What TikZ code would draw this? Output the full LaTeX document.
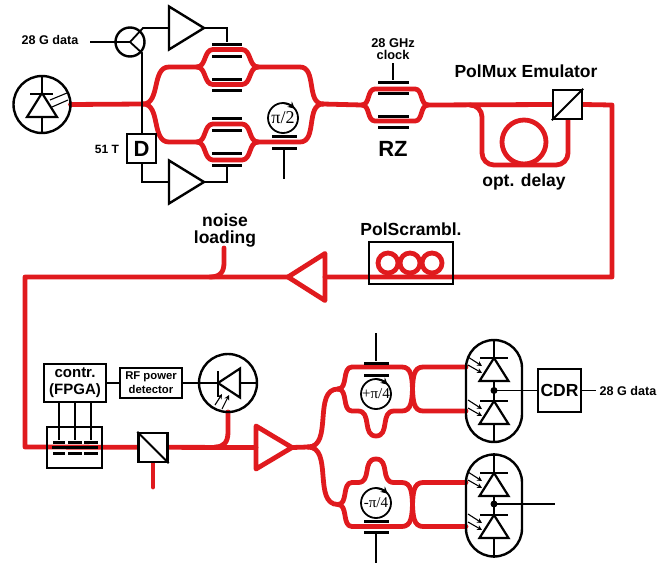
\documentclass[tikz,border=0pt]{standalone}
\usepackage{fontspec}
\setmainfont{Liberation Sans}
\newfontfamily\phasefont{Liberation Serif}
\usepackage{tikz}
\usetikzlibrary{arrows.meta,positioning,shapes.geometric,backgrounds,calc}
\definecolor{wgred}{RGB}{224,26,30}

\begin{document}
\begin{tikzpicture}[
      x=1pt,y=-1pt,
      wg/.style={draw=wgred,line width=4.8pt,line join=round,line cap=round},
      el/.style={draw=black,line width=1.8pt},
      ray/.style={draw=black,line width=1.1pt},
      rayarrow/.style={ray,-{Stealth[length=5pt,width=5pt]}},
      mybox/.style={
         rectangle,
         draw=black,
         fill=white,
         line width=2.4pt,
         inner sep=0pt,
         align=center},
      elec/.style={
         rectangle,
         fill=black,
         inner sep=0pt,
         minimum height=3pt},
      mycircle/.style={
         circle,
         draw=black,
         line width=2.4pt,
         inner sep=0pt,
         outer sep=0pt},
      loopc/.style={
         circle,
         draw=wgred,
         line width=4.8pt,
         inner sep=0pt,
         outer sep=0pt},
      phase/.style={
         mycircle,
         line width=1.8pt,
         minimum size=30pt},
      amp/.style={
         isosceles triangle,
         isosceles triangle stretches,
         draw=black,
         line width=2.4pt,
         inner sep=0pt,
         outer sep=0pt,
         minimum height=35pt,
         minimum width=43pt,
         line join=miter},
      ampred/.style={
         amp,
         draw=wgred,
         line width=4.8pt,
         line join=round},
      diode/.style={
         isosceles triangle,
         isosceles triangle stretches,
         draw=black,
         fill=white,
         line width=2.2pt,
         inner sep=0pt,
         outer sep=0pt,
         minimum height=23pt,
         minimum width=29pt},
      capsule/.style={
         rectangle,
         draw=black,
         line width=2.4pt,
         rounded corners=28pt,
         inner sep=0pt,
         minimum width=56pt,
         minimum height=102pt},
      txtS/.style={font=\fontsize{11.3}{14}\selectfont\bfseries,align=center,inner sep=0pt},
      txtM/.style={font=\fontsize{12.6}{10}\selectfont\bfseries,align=center,inner sep=0pt},
      txtL/.style={font=\fontsize{17.5}{17}\selectfont\bfseries,align=center,inner sep=0pt},
      txtC/.style={font=\fontsize{15}{17}\selectfont\bfseries,align=center,inner sep=0pt},
      txtXL/.style={font=\fontsize{22}{24}\selectfont\bfseries,inner sep=0pt}
      ]
      \useasboundingbox (0,0) rectangle (671,563);
      % waveguide way points
      \foreach \n/\x/\y in {
        sp1/143/104, upa/169/67, upb/300/67, loa/169/142, lob/300/142, cb1/323/104,
        tapd/470/105, dela/482/165, delb/568/165, tr/612/105, mr/612/277,
        nstart/224/248, nend/210/277, ml/25/277, bl/25/447, sp2/308/447,
        tapb/215/447, stub/153/487,
        mza/197/67, mzb/258/67, mzc/197/142, mzd/258/142, rza/362/105, rzb/428/105,
        mzu/338/389, mzl/338/504.5}
        \coordinate (\n) at (\x,\y);
      % drive boxes and components
      \node[mycircle,minimum size=57pt] (laser) at (42,104.5) {};
      \node[mycircle,minimum size=29pt] (xorc) at (130,42) {};
      \node[mybox,minimum width=29pt,minimum height=29pt,font=\fontsize{22}{24}\selectfont\bfseries] (dbox) at (141.5,148.5) {D};
      \node[amp,anchor=apex] (amp1) at (204,28) {};
      \node[amp,anchor=apex] (amp2) at (204,182) {};
      \node[phase,font=\fontsize{18}{18}\selectfont\phasefont] (ph1) at (283,118) {π/2};
      \node[phase,font=\fontsize{15}{15}\selectfont\phasefont] (ph2) at (376,394) {+π/4};
      \node[phase,font=\fontsize{15}{15}\selectfont\phasefont] (ph3) at (376,503) {-π/4};
      \node[mybox,minimum width=29pt,minimum height=29pt] (pbs1) at (567.5,104.5) {};
      \node[mybox,minimum width=29pt,minimum height=29pt] (pbs2) at (153,447.5) {};
      \node[loopc,minimum size=44pt] (delay) at (524,142) {};
      \node[rectangle,draw=black,line width=2.4pt,inner sep=0pt,minimum width=84pt,minimum height=42pt] (scram) at (411,263) {};
      \foreach \n/\x in {sc1/388,sc2/410,sc3/432}
        \node[loopc,minimum size=20pt] (\n) at (\x,263) {};
      \node[ampred,shape border rotate=180,minimum height=37pt,minimum width=47pt,anchor=apex] (amp3) at (288,277) {};
      \node[ampred,minimum height=36pt,minimum width=43pt,anchor=apex] (amp4) at (292,447.5) {};
      \node[mybox,fill=none,minimum width=62pt,minimum height=38pt,txtC] (contr) at (75,383) {contr.\\(FPGA)};
      \node[mybox,minimum width=62pt,minimum height=30pt,txtS] (rfdet) at (151,383) {RF power\\detector};
      \node[mycircle,minimum size=58pt] (pd) at (228,383) {};
      \node[rectangle,draw=black,line width=2.4pt,inner sep=0pt,minimum width=55pt,minimum height=41pt] (modbox) at (74.5,447.5) {};
      \node[capsule] (det1) at (494,391) {};
      \node[capsule] (det2) at (494,505.5) {};
      \node[mybox,minimum width=43pt,minimum height=43pt,font=\fontsize{17.5}{18}\selectfont\bfseries] (cdr) at (559.5,390.5) {CDR};
      % electrodes
      \foreach \n/\x/\y/\w in {
        e1/227/44/30, e2/227/56/30, e3/227/79/30, e4/227/90/30,
        e5/227/118/30, e6/227/130/30, e7/227/153/30, e8/227/165/30,
        e9/284/136/25, e10/284/148/25,
        r1/393/82/31, r2/393/93/31, r3/393/116/31, r4/393/127/31,
        p1/376/363/25, p2/376/375/25, p3/376/521/25, p4/376/532/25,
        m1/59/442/12, m2/75/442/14, m3/91/442/14,
        m4/59/453/12, m5/75/453/14, m6/91/453/14,
        mc/75/447.5/46}
        \node[elec,minimum width=\w pt] (\n) at (\x,\y) {};
      % free ends
      \foreach \n/\x/\y in {
        data1/90/42, xu/143/28, xd/142/53, st1/284/179, st2/393/63,
        st3/376/333, st4/376/563, data2/596/390.5, out2/555/504}
        \coordinate (\n) at (\x,\y);
      % optical paths
      \begin{scope}[on background layer]
      \draw[wg] (laser.east) -- (sp1);
      \draw[wg] (sp1) to[out=0,in=180] (upa) -- (mza);
      \draw[wg] (sp1) to[out=0,in=180] (loa) -- (mzc);
      \draw[wg] (mzb) -- (upb) to[out=0,in=180] (cb1);
      \draw[wg] (mzd) -- (lob) to[out=0,in=180] (cb1);
      \foreach \a/\b/\y/\d/\h in {
        mza/mzb/67/16/17.5, mzc/mzd/142/16/18, rza/rzb/105/13/16}
       {
        \draw[wg] (\a) to[out=0,in=180] ($(\a)+(\d,-\h)$) -- ($(\b)+(-\d,-\h)$) to[out=0,in=180] (\b);
        \draw[wg] (\a) to[out=0,in=180] ($(\a)+(\d,\h)$) -- ($(\b)+(-\d,\h)$) to[out=0,in=180] (\b);
       }
      \draw[wg] (cb1) -- (rza);
      \draw[wg] (rzb) -- (pbs1.west);
      \draw[wg,rounded corners=12pt] (tapd) -- (482,105) -- (dela) -- (delb) -- (pbs1.south -| delb);
      \draw[wg] (pbs1.east) -- (tr) -- (mr) -- (amp3.lower side);
      \draw[wg] (amp3.apex) -- (ml) -- (bl) -- (amp4.lower side);
      \draw[wg] (nstart) -- (224,263) .. controls (224,272) and (220,277) .. (nend);
      \draw[wg] (pd.south) -- (228,432) .. controls (228,442) and (224,447) .. (tapb);
      \draw[wg] (pbs2.south) -- (stub);
      \draw[wg] (amp4.apex) -- (sp2);
      \foreach \c/\s/\b in {mzu/1/25, mzl/-1/23.5}
       {
        \draw[wg] (sp2) to[out=0,in=180] (\c);
        \draw[wg] (\c) to[out=0,in=180] ($(\c)+(14,-22*\s)$) -- ($(\c)+(64,-22*\s)$)
           to[out=0,in=180] ($(\c)+(85,22*\s)$) -- ($(\c)+(128,22*\s)$);
        \draw[wg] (\c) to[out=0,in=180] ($(\c)+(14,22*\s)$) -- ($(\c)+(20,22*\s)$)
           .. controls ($(\c)+(34,22*\s)$) and ($(\c)+(24,22*\s+\b*\s)$) .. ($(\c)+(38,22*\s+\b*\s)$)
           .. controls ($(\c)+(52,22*\s+\b*\s)$) and ($(\c)+(42,22*\s)$) .. ($(\c)+(56,22*\s)$)
           -- ($(\c)+(64,22*\s)$) to[out=0,in=180] ($(\c)+(85,-22*\s)$) -- ($(\c)+(128,-22*\s)$);
       }
      \end{scope}
      % electrical connections
      \draw[el] (data1) -- (xorc.center);
      \draw[el] (xorc.center) -- (xu) -- (amp1.lower side);
      \draw[el] (xorc.center) -- (xd) -- (xd |- dbox.north);
      \draw[el] (xd |- dbox.south) |- (amp2.lower side);
      \draw[el] (amp1.apex) -| (e1);
      \draw[el] (amp2.apex) -| (e8);
      \draw[el] (e10) -- (st1);
      \draw[el] (st2) -- (r1);
      \draw[el] (st3) -- (p1);
      \draw[el] (p4) -- (st4);
      \draw[el] (contr) -- (rfdet);
      \draw[el] (rfdet) -- (pd.east);
      \foreach \m in {m1,m2,m3}
        \draw[el] (contr.south -| \m) -- (\m);
      \draw[el] (cdr) -- (data2);
      % splitters
      \draw[el] (pbs1.south west) -- (pbs1.north east);
      \draw[el] (pbs2.north west) -- (pbs2.south east);
      % source and photodiodes
      \draw[el] (laser.north) -- (laser.south);
      \node[diode,shape border rotate=90,minimum height=24pt,minimum width=30pt,anchor=apex] (dlaser) at (42,93) {};
      \node[elec,minimum width=23pt,minimum height=2.5pt] (blaser) at (41.5,94) {};
      \foreach \xa/\ya/\xb/\yb in {50/100/67/93,52/107/68/100}
        \draw[ray] (\xa,\ya) -- (\xb,\yb);
      \node[diode,shape border rotate=180,minimum height=22pt,minimum width=29pt,anchor=apex] (dpd) at (218,383) {};
      \node[elec,minimum width=2.5pt,minimum height=26pt] (bpd) at (218,383.5) {};
      \foreach \xa/\ya/\xb/\yb in {215/405/222/394,222/409/229/395}
        \draw[rayarrow] (\xa,\ya) -- (\xb,\yb);
      \foreach \caps/\ya/\yb/\yd in {det1/358/401/390.5, det2/473/515/504}
       {
        \draw[el] (\caps.north) -- (\caps.south);
        \foreach \y in {\ya,\yb}
         {
          \node[diode,shape border rotate=90,anchor=apex] at (494,\y) {};
          \fill (480,\y-1) rectangle (508,\y+1);
          \draw[rayarrow] (468,\y-1) -- (482,\y+8);
          \draw[rayarrow] (468,\y+7) -- (482,\y+15);
         }
        \fill (494,\yd) circle (3.5pt);
       }
      \draw[el] (494,390.5) -- (cdr.west);
      \draw[el] (494,504) -- (out2);
      % phase arrows
      \foreach \p in {ph1,ph2,ph3}
        \draw[line width=1.6pt,-{Stealth[length=7pt,width=7pt]}] (\p.90) to[bend left=15] (\p.38);
      % labels
      \node[txtM] (ldata1) at (50,40) {28 G data};
      \node[txtM] (ldata2) at (628,391) {28 G data};
      \node[txtM,font=\fontsize{12}{12}\selectfont\bfseries] (l51) at (107,149) {51 T};
      \node[txtM,font=\fontsize{12.8}{11.5}\selectfont\bfseries] (lclock) at (393,49) {28 GHz\\clock};
      \node[txtXL] (lrz) at (393,149) {RZ};
      \node[txtL] (lpolmux) at (526,71) {PolMux Emulator};
      \node[txtL] (ldelay) at (524,182) {opt. delay};
      \node[txtL] (lscram) at (411,229) {PolScrambl.};
      \node[txtL] (lnoise) at (225,230.5) {noise\\loading};
\end{tikzpicture}
\end{document}
